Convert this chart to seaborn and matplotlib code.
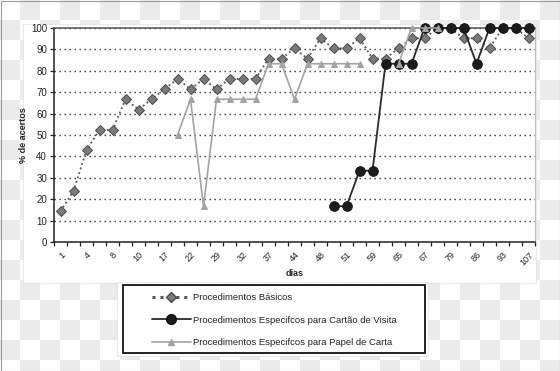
import numpy as np
import pandas as pd
import matplotlib.pyplot as plt
import seaborn as sns
from matplotlib.lines import Line2D
from matplotlib.patches import Rectangle

# days (category axis); only every other one is labelled in the original
dias = ["1", "2", "4", "6", "8", "9", "10", "15", "17", "20", "22", "24", "29",
        "30", "32", "36", "37", "41", "44", "46", "48", "50", "51", "55", "59",
        "62", "65", "66", "67", "72", "79", "80", "86", "90", "93", "100", "107"]

basicos = [14.3, 23.8, 42.9, 52.4, 52.4, 66.7, 61.9, 66.7, 71.4, 76.2, 71.4,
           76.2, 71.4, 76.2, 76.2, 76.2, 85.7, 85.7, 90.5, 85.7, 95.2, 90.5,
           90.5, 95.2, 85.7, 85.7, 90.5, 95.2, 95.2, 100, 100, 95.2, 95.2,
           90.5, 100, 100, 95.2]

cartao = [np.nan] * 21 + [16.7, 16.7, 33.3, 33.3, 83.3, 83.3, 83.3, 100, 100,
                          100, 100, 83.3, 100, 100, 100, 100]

papel = [np.nan] * 9 + [50.0, 66.7, 16.7, 66.7, 66.7, 66.7, 66.7, 83.3, 83.3,
                        66.7, 83.3, 83.3, 83.3, 83.3, 83.3, np.nan, np.nan,
                        83.3, 100, 100, 100] + [np.nan] * 7

nomes = ["Procedimentos Básicos",
         "Procedimentos Especifcos para Cartão de Visita",
         "Procedimentos Especifcos para Papel de Carta"]


def segmentos(vals):
    df = pd.DataFrame({"dia": dias, "val": vals})
    df["seg"] = df["val"].isna().cumsum()
    return df.dropna()


sns.set_style("white")
plt.rcParams["font.family"] = ["Liberation Sans", "DejaVu Sans"]

fig = plt.figure(figsize=(5.6, 3.71), dpi=100)

# transparent-background checkerboard look
bg = fig.add_axes([0, 0, 1, 1], zorder=-10)
rows, cols = 19, 28
checker = (np.add.outer(np.arange(rows), np.arange(cols)) % 2).astype(float)
bg.imshow(checker, cmap=plt.matplotlib.colors.ListedColormap(["white", "#ebebeb"]),
          extent=[0, cols * 20, rows * 20, 0], interpolation="nearest")
bg.set_xlim(0, 560)
bg.set_ylim(371, 0)
bg.add_patch(Rectangle((23, 24), 513, 259, facecolor="white", edgecolor="#cfcfcf",
                       lw=0.6, ls=(0, (1, 1))))
bg.add_patch(Rectangle((117, 282), 311, 74, facecolor="white", edgecolor="#cfcfcf",
                       lw=0.6, ls=(0, (1, 1))))
bg.add_patch(Rectangle((123, 285), 302, 68, facecolor="white", edgecolor="#111111",
                       lw=1.3))
bg.add_patch(Rectangle((0.5, 0.5), 559, 370, facecolor="none", edgecolor="#9a9a9a",
                       lw=0.8))
bg.axis("off")

ax = fig.add_axes([54 / 560, 1 - 242 / 371, 481 / 560, 214 / 371])
ax.set_facecolor("none")

sns.lineplot(data=segmentos(basicos), x="dia", y="val", units="seg", estimator=None,
             sort=False, ax=ax, color="#555555", lw=1.3, linestyle=(0, (1, 1.6)),
             marker="D", markersize=5.5, markerfacecolor="#7a7a7a",
             markeredgecolor="#4a4a4a", markeredgewidth=0.7, zorder=3, clip_on=False)
sns.lineplot(data=segmentos(cartao), x="dia", y="val", units="seg", estimator=None,
             sort=False, ax=ax, color="#2a2a2a", lw=1.3, linestyle="-",
             marker="o", markersize=7, markerfacecolor="#1c1c1c",
             markeredgecolor="#111111", markeredgewidth=0.6, zorder=4, clip_on=False)
sns.lineplot(data=segmentos(papel), x="dia", y="val", units="seg", estimator=None,
             sort=False, ax=ax, color="#a3a3a3", lw=1.2, linestyle="-",
             marker="^", markersize=5, markerfacecolor="#a3a3a3",
             markeredgecolor="#a3a3a3", zorder=5, clip_on=False)

n = len(dias)
ax.set_xlim(-0.5, n - 0.5)
ax.set_ylim(0, 100)
ax.set_yticks(range(0, 101, 10))
ax.set_xticks(range(0, n, 2))
ax.set_xticklabels(dias[::2], rotation=45, ha="right", rotation_mode="anchor",
                   fontsize=6.5, color="#222222")
ax.set_xticks(np.arange(-0.5, n, 1), minor=True)
ax.tick_params(axis="x", which="major", length=0, pad=6)
ax.tick_params(axis="x", which="minor", length=3, width=0.9, color="#222222",
               direction="out", bottom=True)
ax.tick_params(axis="y", length=3, width=0.9, color="#222222", direction="out",
               left=True, labelsize=7, labelcolor="#222222", pad=2)

ax.yaxis.grid(True, linestyle=(0, (1, 2.6)), color="#333333", lw=1.0)
ax.xaxis.grid(False)
for s in ["left", "bottom"]:
    ax.spines[s].set_color("#222222")
    ax.spines[s].set_linewidth(1.1)
ax.spines["top"].set_color("#555555")
ax.spines["top"].set_linewidth(1.1)
ax.spines["right"].set_color("#bbbbbb")
ax.spines["right"].set_linewidth(0.7)
ax.spines["right"].set_linestyle((0, (1, 1)))

ax.set_xlabel("dias", fontsize=6.5, fontweight="bold", labelpad=1)
ax.set_ylabel("% de acertos", fontsize=6.5, fontweight="bold", labelpad=2)
if ax.get_legend() is not None:
    ax.get_legend().remove()

handles = [
    Line2D([], [], color="#555555", lw=2.2, linestyle=(0, (1, 1.6)), marker="D",
           markersize=5.5, markerfacecolor="#7a7a7a", markeredgecolor="#4a4a4a"),
    Line2D([], [], color="#2a2a2a", lw=1.3, marker="o", markersize=7,
           markerfacecolor="#1c1c1c", markeredgecolor="#111111"),
    Line2D([], [], color="#a3a3a3", lw=1.2, marker="^", markersize=5,
           markerfacecolor="#a3a3a3", markeredgecolor="#a3a3a3"),
]
leg = fig.legend(handles, nomes, loc="upper left",
                 bbox_to_anchor=(152 / 560, 1 - 293 / 371), fontsize=6.8,
                 handlelength=4.1, handletextpad=0.2, labelspacing=1.45,
                 borderpad=0, borderaxespad=0, frameon=False)
for t in leg.get_texts():
    t.set_color("#222222")

fig.savefig("out.png", dpi=100)
